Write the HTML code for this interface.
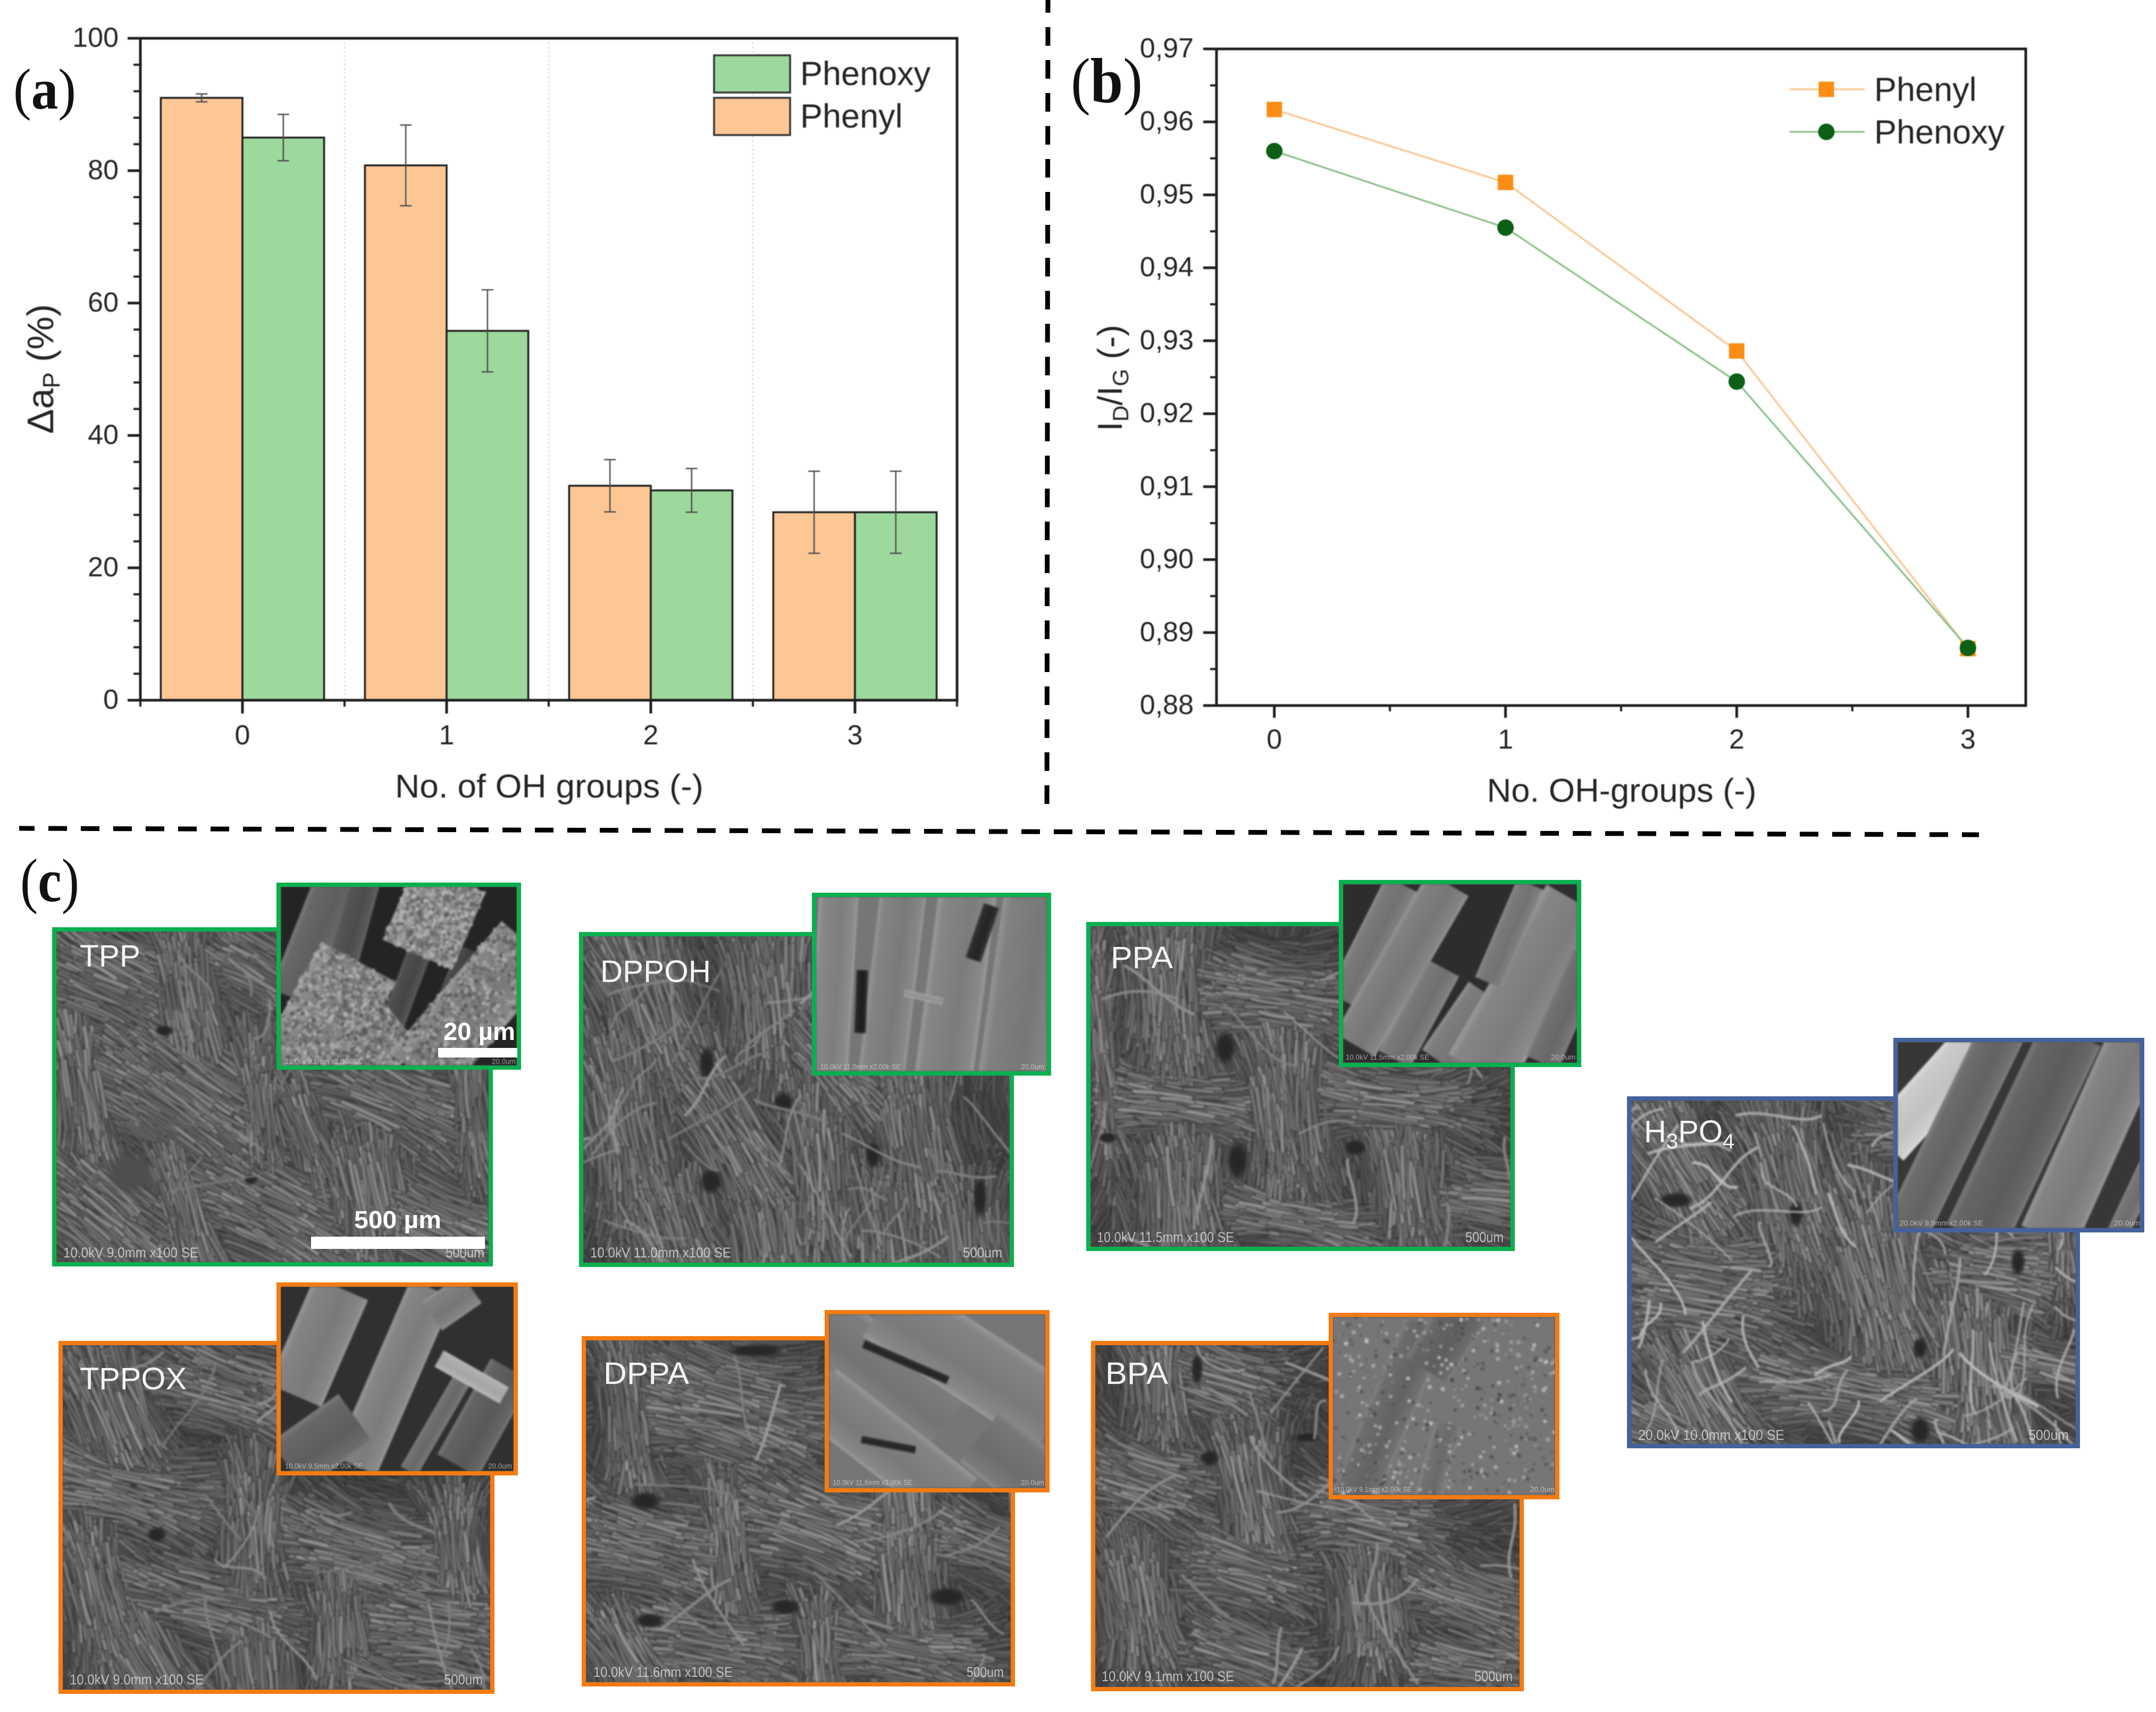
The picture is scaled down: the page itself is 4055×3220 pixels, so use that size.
<!DOCTYPE html>
<html lang="en">
<head>
<meta charset="utf-8">
<title>OH groups chart and SEM panels</title>
<style>
html,body{margin:0;padding:0;background:#fff;}
#page{position:relative;width:4055px;height:3220px;background:#fff;overflow:hidden;font-family:"Liberation Sans",sans-serif;}
.sem{position:absolute;box-sizing:border-box;border:8px solid #00b050;overflow:hidden;background:#555;}
.sem canvas{display:block;width:100%;height:100%;filter:blur(1.8px);}
.g{border-color:#0ab04f;}.o{border-color:#f47b12;}.b{border-color:#44629b;}
svg{position:absolute;left:0;top:0;}
#chartA,#chartB{filter:blur(.9px);}
.lab{fill:#f4f4f4;font-size:58px;}
.info{fill:#e8e8e8;font-size:27px;opacity:.72;}
.tiny{fill:#e8e8e8;font-size:14px;opacity:.6;}
.bar{fill:#fff;font-size:46px;font-weight:bold;}
.tick{fill:#262626;font-size:52px;}
.title{fill:#262626;font-size:62px;}
.leg{fill:#262626;font-size:63px;}
.pl{font-family:"Liberation Serif",serif;fill:#111;}
</style>
</head>
<body>
<div id="page">

<svg id="chartA" width="4055" height="1600" viewBox="0 0 4055 1600"></svg>
<svg id="chartB" width="4055" height="1600" viewBox="0 0 4055 1600"></svg>

<svg width="4055" height="1600" viewBox="0 0 4055 1600">
  <line x1="1971" y1="-11" x2="1969" y2="1512" stroke="#000" stroke-width="9" stroke-dasharray="35 27"/>
  <line x1="36" y1="1558" x2="3722" y2="1570" stroke="#000" stroke-width="9" stroke-dasharray="35 26" stroke-dashoffset="6"/>
</svg>

<div class="sem g" style="left:98px;top:1744px;width:829px;height:638px"><canvas id="m-tpp"></canvas></div>
<div class="sem g" style="left:520px;top:1660px;width:460px;height:352px"><canvas id="i-tpp"></canvas></div>

<div class="sem g" style="left:1089px;top:1753px;width:818px;height:630px"><canvas id="m-dppoh"></canvas></div>
<div class="sem g" style="left:1527px;top:1679px;width:450px;height:344px"><canvas id="i-dppoh"></canvas></div>

<div class="sem g" style="left:2043px;top:1734px;width:806px;height:619px"><canvas id="m-ppa"></canvas></div>
<div class="sem g" style="left:2518px;top:1655px;width:456px;height:352px"><canvas id="i-ppa"></canvas></div>

<div class="sem o" style="left:110px;top:2522px;width:820px;height:664px"><canvas id="m-tppox"></canvas></div>
<div class="sem o" style="left:520px;top:2412px;width:454px;height:363px"><canvas id="i-tppox"></canvas></div>

<div class="sem o" style="left:1094px;top:2513px;width:815px;height:659px"><canvas id="m-dppa"></canvas></div>
<div class="sem o" style="left:1551px;top:2464px;width:423px;height:343px"><canvas id="i-dppa"></canvas></div>

<div class="sem o" style="left:2052px;top:2522px;width:814px;height:659px"><canvas id="m-bpa"></canvas></div>
<div class="sem o" style="left:2499px;top:2469px;width:434px;height:351px"><canvas id="i-bpa"></canvas></div>

<div class="sem b" style="left:3060px;top:2062px;width:852px;height:662px"><canvas id="m-h3po4"></canvas></div>
<div class="sem b" style="left:3561px;top:1952px;width:472px;height:366px"><canvas id="i-h3po4"></canvas></div>

<svg width="4055" height="3220" viewBox="0 0 4055 3220" style="pointer-events:none">
  <text class="pl" x="25" y="204" font-size="108" textLength="118" lengthAdjust="spacingAndGlyphs">(<tspan font-weight="bold">a</tspan>)</text>
  <text class="pl" x="2014" y="192" font-size="120" textLength="135" lengthAdjust="spacingAndGlyphs">(<tspan font-weight="bold">b</tspan>)</text>
  <text class="pl" x="38" y="1695" font-size="115" textLength="111" lengthAdjust="spacingAndGlyphs">(<tspan font-weight="bold">c</tspan>)</text>

  <text class="lab" x="150" y="1818" textLength="114" lengthAdjust="spacingAndGlyphs">TPP</text>
  <text class="lab" x="1129" y="1847" textLength="208" lengthAdjust="spacingAndGlyphs">DPPOH</text>
  <text class="lab" x="2089" y="1821" textLength="117" lengthAdjust="spacingAndGlyphs">PPA</text>
  <text class="lab" x="150" y="2613" textLength="201" lengthAdjust="spacingAndGlyphs">TPPOX</text>
  <text class="lab" x="1135" y="2603" textLength="161" lengthAdjust="spacingAndGlyphs">DPPA</text>
  <text class="lab" x="2079" y="2603" textLength="118" lengthAdjust="spacingAndGlyphs">BPA</text>
  <text class="lab" x="3092" y="2148">H<tspan font-size="40" dy="12">3</tspan><tspan dy="-12">PO</tspan><tspan font-size="40" dy="12">4</tspan></text>

  <rect x="585" y="2326" width="327" height="23" fill="#fff"/>
  <text class="bar" x="666" y="2310" textLength="164" lengthAdjust="spacingAndGlyphs">500 µm</text>
  <rect x="824" y="1971" width="149" height="18" fill="#fff"/>
  <text class="bar" x="834" y="1956" textLength="135" lengthAdjust="spacingAndGlyphs">20 µm</text>

  <text class="info" x="119" y="2365" textLength="254" lengthAdjust="spacingAndGlyphs">10.0kV 9.0mm x100 SE</text>
  <text class="info" x="838" y="2365" textLength="73" lengthAdjust="spacingAndGlyphs">500um</text>
  <text class="info" x="1110" y="2365" textLength="265" lengthAdjust="spacingAndGlyphs">10.0kV 11.0mm x100 SE</text>
  <text class="info" x="1811" y="2365" textLength="74" lengthAdjust="spacingAndGlyphs">500um</text>
  <text class="info" x="2063" y="2336" textLength="258" lengthAdjust="spacingAndGlyphs">10.0kV 11.5mm x100 SE</text>
  <text class="info" x="2756" y="2336" textLength="72" lengthAdjust="spacingAndGlyphs">500um</text>
  <text class="info" x="131" y="3168" textLength="252" lengthAdjust="spacingAndGlyphs">10.0kV 9.0mm x100 SE</text>
  <text class="info" x="835" y="3168" textLength="73" lengthAdjust="spacingAndGlyphs">500um</text>
  <text class="info" x="1116" y="3154" textLength="262" lengthAdjust="spacingAndGlyphs">10.0kV 11.6mm x100 SE</text>
  <text class="info" x="1818" y="3154" textLength="70" lengthAdjust="spacingAndGlyphs">500um</text>
  <text class="info" x="2072" y="3162" textLength="249" lengthAdjust="spacingAndGlyphs">10.0kV 9.1mm x100 SE</text>
  <text class="info" x="2773" y="3162" textLength="72" lengthAdjust="spacingAndGlyphs">500um</text>
  <text class="info" x="3081" y="2708" textLength="275" lengthAdjust="spacingAndGlyphs">20.0kV 10.0mm x100 SE</text>
  <text class="info" x="3815" y="2708" textLength="76" lengthAdjust="spacingAndGlyphs">500um</text>

  <text class="tiny" x="536" y="2001" textLength="146" lengthAdjust="spacingAndGlyphs">10.0kV 9.5mm x2.00k SE</text>
  <text class="tiny" x="925" y="2001" textLength="45" lengthAdjust="spacingAndGlyphs">20.0um</text>
  <text class="tiny" x="1543" y="2011" textLength="151" lengthAdjust="spacingAndGlyphs">10.0kV 11.0mm x2.00k SE</text>
  <text class="tiny" x="1920" y="2011" textLength="44" lengthAdjust="spacingAndGlyphs">20.0um</text>
  <text class="tiny" x="2531" y="1993" textLength="157" lengthAdjust="spacingAndGlyphs">10.0kV 11.5mm x2.00k SE</text>
  <text class="tiny" x="2917" y="1993" textLength="46" lengthAdjust="spacingAndGlyphs">20.0um</text>
  <text class="tiny" x="536" y="2762" textLength="146" lengthAdjust="spacingAndGlyphs">10.0kV 9.5mm x2.00k SE</text>
  <text class="tiny" x="918" y="2762" textLength="45" lengthAdjust="spacingAndGlyphs">20.0um</text>
  <text class="tiny" x="1566" y="2793" textLength="150" lengthAdjust="spacingAndGlyphs">10.0kV 11.6mm x2.00k SE</text>
  <text class="tiny" x="1920" y="2793" textLength="44" lengthAdjust="spacingAndGlyphs">20.0um</text>
  <text class="tiny" x="2514" y="2806" textLength="141" lengthAdjust="spacingAndGlyphs">10.0kV 9.1mm x2.00k SE</text>
  <text class="tiny" x="2878" y="2806" textLength="46" lengthAdjust="spacingAndGlyphs">20.0um</text>
  <text class="tiny" x="3573" y="2305" textLength="157" lengthAdjust="spacingAndGlyphs">20.0kV 9.9mm x2.00k SE</text>
  <text class="tiny" x="3976" y="2305" textLength="49" lengthAdjust="spacingAndGlyphs">20.0um</text>
</svg>
</div>

<script>
/* ---------- chart data ---------- */
const categoriesA = [0, 1, 2, 3];
const phenylValues = [91, 80.8, 32.4, 28.4];
const phenylErrors = [0.6, 6.1, 3.95, 6.2];
const phenoxyValues = [85, 55.8, 31.7, 28.4];
const phenoxyErrors = [3.5, 6.2, 3.3, 6.2];
const yTicksA = [0, 20, 40, 60, 80, 100];

const categoriesB = [0, 1, 2, 3];
const phenylRatio = [0.9617, 0.9517, 0.9286, 0.8878];
const phenoxyRatio = [0.956, 0.9455, 0.9244, 0.8879];
const yTicksB = [0.88, 0.89, 0.90, 0.91, 0.92, 0.93, 0.94, 0.95, 0.96, 0.97];

const NS = 'http://www.w3.org/2000/svg';
function mk(parent, tag) {
  const e = document.createElementNS(NS, tag);
  parent.appendChild(e);
  return e;
}
function seg(parent, x1, y1, x2, y2, stroke, w) {
  const l = mk(parent, 'line');
  l.setAttribute('x1', x1); l.setAttribute('y1', y1);
  l.setAttribute('x2', x2); l.setAttribute('y2', y2);
  l.setAttribute('stroke', stroke); l.setAttribute('stroke-width', w);
  return l;
}
function txt(parent, cls, x, y, s, anchor) {
  const t = mk(parent, 'text');
  t.setAttribute('class', cls);
  t.setAttribute('x', x); t.setAttribute('y', y);
  if (anchor) t.setAttribute('text-anchor', anchor);
  t.textContent = s;
  return t;
}

/* ---------- chart A ---------- */
(function () {
  const svg = document.getElementById('chartA');
  const L = 264, R = 1800, T = 72, B = 1317;
  const xA = v => L + (v + 0.5) / 4 * (R - L);
  const yA = v => B - v / 100 * (B - T);
  const barW = 0.4 / 4 * (R - L);
  const dark = '#1f1f1f';

  categoriesA.slice(0, -1).forEach(c => {
    const g = seg(svg, xA(c + 0.5), T, xA(c + 0.5), B, '#cfcfcf', 2);
    g.setAttribute('stroke-dasharray', '3 5');
    
    
  });

  function bars(vals, errs, fill, off, name) {
    vals.forEach((v, i) => {
      const x = xA(categoriesA[i]) + off * barW;
      const r = mk(svg, 'rect');
      r.setAttribute('x', x); r.setAttribute('y', yA(v));
      r.setAttribute('width', barW); r.setAttribute('height', yA(0) - yA(v));
      r.setAttribute('fill', fill); r.setAttribute('stroke', dark); r.setAttribute('stroke-width', 3.5);
      
      
    });
    vals.forEach((v, i) => {
      const cx = xA(categoriesA[i]) + off * barW + barW / 2;
      const hi = yA(v + errs[i]), lo = yA(v - errs[i]);
      const g = mk(svg, 'g');
      
      
      seg(g, cx, hi, cx, lo, '#4d4d4d', 2.5);
      seg(g, cx - 11, hi, cx + 11, hi, '#4d4d4d', 2.5);
      seg(g, cx - 11, lo, cx + 11, lo, '#4d4d4d', 2.5);
    });
  }
  bars(phenylValues, phenylErrors, '#fcc795', -1, 'phenyl');
  bars(phenoxyValues, phenoxyErrors, '#9dd89c', 0, 'phenoxy');

  const frame = mk(svg, 'rect');
  frame.setAttribute('x', L); frame.setAttribute('y', T);
  frame.setAttribute('width', R - L); frame.setAttribute('height', B - T);
  frame.setAttribute('fill', 'none'); frame.setAttribute('stroke', dark); frame.setAttribute('stroke-width', 5);
  
  

  yTicksA.forEach((v, i) => {
    const tk = seg(svg, L - 24, yA(v), L, yA(v), dark, 5);
    
    
    const lb = txt(svg, 'tick', 223, yA(v) + 16, String(v), 'end');
    
    
    if (i < yTicksA.length - 1) {
      for (let k = 1; k < 5; k++) {
        const mv = v + k * (yTicksA[i + 1] - v) / 5;
        const m = seg(svg, L - 13, yA(mv), L, yA(mv), dark, 4);
        
        
      }
    }
  });
  categoriesA.forEach(c => {
    const tk = seg(svg, xA(c), B, xA(c), B + 25, dark, 5);
    
    
    const lb = txt(svg, 'tick', xA(c), 1400, String(c), 'middle');
    
    
    [-0.5, 0.5].forEach(d => {
      const m = seg(svg, xA(c + d), B, xA(c + d), B + 12, dark, 4);
      
      
    });
  });

  const xt = txt(svg, 'title', 1033, 1500, 'No. of OH groups (-)', 'middle');
  xt.setAttribute('textLength', 580);
  xt.setAttribute('lengthAdjust', 'spacingAndGlyphs');
  
  

  const yt = txt(svg, 'title', 0, 0, '');
  yt.setAttribute('transform', 'translate(100,816) rotate(-90)');
  yt.style.fontSize = '70px';
  
  
  yt.innerHTML = 'Δa<tspan style="font-size:45px" dy="12">P</tspan><tspan dy="-12"> (%)</tspan>';

  function legendSwatch(y, fill, label, name) {
    const r = mk(svg, 'rect');
    r.setAttribute('x', 1343); r.setAttribute('y', y);
    r.setAttribute('width', 143); r.setAttribute('height', 70);
    r.setAttribute('fill', fill); r.setAttribute('stroke', '#333'); r.setAttribute('stroke-width', 3.5);
    
    
    const t = txt(svg, 'leg', 1505, y + 56, label);
    
    
  }
  legendSwatch(104, '#9dd89c', 'Phenoxy', 'phenoxy');
  legendSwatch(184, '#fcc795', 'Phenyl', 'phenyl');
})();

/* ---------- chart B ---------- */
(function () {
  const svg = document.getElementById('chartB');
  const L = 2288, R = 3810, T = 92, B = 1327;
  const xB = v => L + (v + 0.25) / 3.5 * (R - L);
  const yB = v => B - (v - 0.88) / 0.09 * (B - T);
  const dark = '#1f1f1f';

  const frame = mk(svg, 'rect');
  frame.setAttribute('x', L); frame.setAttribute('y', T);
  frame.setAttribute('width', R - L); frame.setAttribute('height', B - T);
  frame.setAttribute('fill', 'none'); frame.setAttribute('stroke', dark); frame.setAttribute('stroke-width', 5);
  
  

  yTicksB.forEach((v, i) => {
    const tk = seg(svg, L - 25, yB(v), L, yB(v), dark, 5);
    
    
    const lb = txt(svg, 'tick', 2245, yB(v) + 16, v.toFixed(2).replace('.', ','), 'end');
    
    
    if (i < yTicksB.length - 1) {
      const mv = (v + yTicksB[i + 1]) / 2;
      const m = seg(svg, L - 12, yB(mv), L, yB(mv), dark, 4);
      
      
    }
  });
  categoriesB.forEach((c, i) => {
    const tk = seg(svg, xB(c), B, xB(c), B + 23, dark, 5);
    
    
    const lb = txt(svg, 'tick', xB(c), 1408, String(c), 'middle');
    
    
    if (i < categoriesB.length - 1) {
      const m = seg(svg, xB(c + 0.5), B, xB(c + 0.5), B + 11, dark, 4);
      
      
    }
  });

  function series(vals, color, name) {
    const p = mk(svg, 'polyline');
    p.setAttribute('points', vals.map((v, i) => xB(categoriesB[i]) + ',' + yB(v)).join(' '));
    p.setAttribute('fill', 'none');
    p.setAttribute('stroke', color);
    p.setAttribute('stroke-width', 3.5);
    
    
  }
  function square(x, y, name) {
    const s = mk(svg, 'rect');
    s.setAttribute('x', x - 14.5); s.setAttribute('y', y - 14.5);
    s.setAttribute('width', 29); s.setAttribute('height', 29);
    s.setAttribute('fill', '#fb8d14');
    
    
  }
  function dot(x, y, name) {
    const s = mk(svg, 'circle');
    s.setAttribute('cx', x); s.setAttribute('cy', y); s.setAttribute('r', 15.5);
    s.setAttribute('fill', '#0c5f14');
    
    
  }
  series(phenylRatio, '#fcc795', 'phenyl');
  series(phenoxyRatio, '#8fc290', 'phenoxy');
  phenylRatio.forEach((v, i) => square(xB(categoriesB[i]), yB(v), 'phenyl-point'));
  phenoxyRatio.forEach((v, i) => dot(xB(categoriesB[i]), yB(v), 'phenoxy-point'));

  const ll1 = seg(svg, 3366, 168, 3507, 168, '#fcc795', 3.5);
  
  
  square(3435, 168, 'phenyl-legend-marker');
  const ll2 = seg(svg, 3366, 248, 3507, 248, '#8fc290', 3.5);
  
  
  dot(3435, 248, 'phenoxy-legend-marker');
  const t1 = txt(svg, 'leg', 3525, 190, 'Phenyl');
  
  
  const t2 = txt(svg, 'leg', 3525, 270, 'Phenoxy');
  
  

  const xt = txt(svg, 'title', 3050, 1508, 'No. OH-groups (-)', 'middle');
  xt.setAttribute('textLength', 507);
  xt.setAttribute('lengthAdjust', 'spacingAndGlyphs');
  
  

  const yt = txt(svg, 'title', 0, 0, '');
  yt.setAttribute('transform', 'translate(2110,811) rotate(-90)');
  yt.style.fontSize = '65px';
  
  
  yt.innerHTML = 'I<tspan style="font-size:42px" dy="12">D</tspan><tspan dy="-12">/I</tspan><tspan style="font-size:42px" dy="12">G</tspan><tspan dy="-12"> (-)</tspan>';
})();

/* ---------- SEM micrograph textures (decorative, procedural) ---------- */
function rng(seed) {
  let a = seed >>> 0;
  return function () {
    a = (a + 0x6D2B79F5) >>> 0;
    let t = a;
    t = Math.imul(t ^ (t >>> 15), t | 1);
    t ^= t + Math.imul(t ^ (t >>> 7), t | 61);
    return ((t ^ (t >>> 14)) >>> 0) / 4294967296;
  };
}
function sized(id) {
  const c = document.getElementById(id);
  c.width = c.clientWidth;
  c.height = c.clientHeight;
  return c;
}
function grayC(v) {
  v = Math.max(0, Math.min(255, Math.round(v)));
  return 'rgb(' + v + ',' + v + ',' + v + ')';
}
function paintMain(id, seed, patches, holes, strays, strayLight, bright) {
  const c = sized(id), ctx = c.getContext('2d'), r = rng(seed);
  const W = c.width, H = c.height;
  ctx.fillStyle = '#484848';
  ctx.fillRect(0, 0, W, H);
  ctx.lineCap = 'round';
  const n = Math.round(W * H / 75);
  const list = [];
  for (let i = 0; i < n; i++) {
    const x = r() * (W + 60) - 30, y = r() * (H + 60) - 30;
    let best = Infinity, bu = 0, bw = 0, ba = 0;
    patches.forEach(p => {
      const a = p[4] * Math.PI / 180;
      const lenA = Math.max(p[2] * W, p[3] * H);
      const perp = Math.min(p[2] * W, p[3] * H);
      const dx = x - p[0] * W, dy = y - p[1] * H;
      const u = (dx * Math.cos(a) + dy * Math.sin(a)) / lenA;
      const w = (-dx * Math.sin(a) + dy * Math.cos(a)) / perp;
      const d = Math.sqrt(u * u + w * w);
      if (d < best) { best = d; bu = u; bw = w; ba = a; }
    });
    list.push([x, y, best, bu, bw, ba, best + r() * 0.5]);
  }
  list.sort((p, q) => q[6] - p[6]);
  list.forEach(f => {
    const fade = Math.max(0.62, 1 - Math.max(0, f[2] - 0.55) * 0.42);
    const ang = f[5] + Math.max(-0.6, Math.min(0.6, f[3] * f[4] * 0.65)) + (r() - 0.5) * 0.22;
    const len = 55 + r() * 65, wd = 4.5 + r() * 3;
    const v = (98 + r() * 48) * bright * fade;
    const dx = Math.cos(ang) * len / 2, dy = Math.sin(ang) * len / 2;
    const bend = (r() - 0.5) * 12;
    ctx.beginPath();
    ctx.moveTo(f[0] - dx, f[1] - dy);
    ctx.quadraticCurveTo(f[0] - Math.sin(ang) * bend, f[1] + Math.cos(ang) * bend, f[0] + dx, f[1] + dy);
    ctx.strokeStyle = 'rgba(48,48,48,.75)';
    ctx.lineWidth = wd + 3;
    ctx.stroke();
    ctx.strokeStyle = grayC(v);
    ctx.lineWidth = wd;
    ctx.stroke();
  });
  holes.forEach(h => {
    const cx = h[0] * W, cy = h[1] * H, rx = h[2] * W, ry = h[3] * H;
    const tone = h[4] === undefined ? 38 : h[4];
    ctx.save();
    ctx.translate(cx, cy);
    ctx.scale(rx, ry);
    const g = ctx.createRadialGradient(0, 0, 0.1, 0, 0, 1);
    g.addColorStop(0, 'rgba(' + tone + ',' + tone + ',' + tone + ',1)');
    g.addColorStop(0.55, 'rgba(' + tone + ',' + tone + ',' + tone + ',.92)');
    g.addColorStop(1, 'rgba(' + tone + ',' + tone + ',' + tone + ',0)');
    ctx.fillStyle = g;
    ctx.beginPath();
    ctx.arc(0, 0, 1, 0, Math.PI * 2);
    ctx.fill();
    ctx.restore();
  });
  for (let i = 0; i < strays; i++) {
    const x = r() * W, y = r() * H, ang = r() * Math.PI;
    const len = 70 + r() * 130;
    ctx.beginPath();
    ctx.moveTo(x, y);
    ctx.bezierCurveTo(
      x + Math.cos(ang) * len * 0.3 + (r() - 0.5) * 50, y + Math.sin(ang) * len * 0.3 + (r() - 0.5) * 50,
      x + Math.cos(ang) * len * 0.7 + (r() - 0.5) * 50, y + Math.sin(ang) * len * 0.7 + (r() - 0.5) * 50,
      x + Math.cos(ang) * len, y + Math.sin(ang) * len);
    ctx.strokeStyle = grayC(strayLight + r() * 35);
    ctx.lineWidth = 3 + r() * 2.5;
    ctx.stroke();
  }
}
function paintInset(id, seed, base, stripes, speck) {
  const c = sized(id), ctx = c.getContext('2d'), r = rng(seed);
  const W = c.width, H = c.height;
  ctx.fillStyle = grayC(base);
  ctx.fillRect(0, 0, W, H);
  stripes.forEach(s => {
    const x0 = s[0] * W, y0 = s[1] * H, x1 = s[2] * W, y1 = s[3] * H;
    const w = s[4] * W, v = s[5], sp = s[6] || 0;
    const len = Math.hypot(x1 - x0, y1 - y0);
    ctx.save();
    ctx.translate(x0, y0);
    ctx.rotate(Math.atan2(y1 - y0, x1 - x0));
    const g = ctx.createLinearGradient(0, -w / 2, 0, w / 2);
    g.addColorStop(0, grayC(v + 24));
    g.addColorStop(0.12, grayC(v + 4));
    g.addColorStop(0.6, grayC(v - 6));
    g.addColorStop(0.92, grayC(v + 8));
    g.addColorStop(1, grayC(v + 28));
    ctx.fillStyle = g;
    ctx.fillRect(0, -w / 2, len, w);
    for (let i = 0; i < sp; i++) {
      ctx.fillStyle = grayC(v + (r() < 0.5 ? 15 + r() * 35 : -15 - r() * 30));
      ctx.beginPath();
      ctx.arc(r() * len, (r() - 0.5) * w, 1.5 + r() * 3, 0, Math.PI * 2);
      ctx.fill();
    }
    ctx.restore();
  });
  for (let i = 0; i < (speck || 0); i++) {
    ctx.fillStyle = grayC(r() < 0.5 ? 150 + r() * 50 : 70 + r() * 35);
    ctx.beginPath();
    ctx.arc(r() * W, r() * H, 1.2 + r() * 2.8, 0, Math.PI * 2);
    ctx.fill();
  }
}

paintMain('m-tpp', 11, [
  [.12,.15,.16,.18,25],[.3,.2,.2,.12,80],[.47,.12,.12,.12,30],[.06,.48,.22,.09,82],
  [.3,.5,.3,.2,35],[.47,.55,.2,.08,85],[.58,.6,.18,.07,70],[.78,.5,.22,.14,25],
  [.95,.5,.22,.06,85],[.72,.78,.16,.16,80],[.1,.85,.2,.16,40],[.3,.85,.2,.08,75],
  [.52,.85,.24,.16,28],[.88,.88,.18,.13,25]
], [[.17,.73,.06,.07,78],[.25,.3,.025,.018],[.45,.75,.018,.018]], 12, 115, 1);
paintInset('i-tpp', 12, 36, [
  [.05,.62,.25,-.05,.2,100],[.2,.72,.36,-.05,.13,82],[.45,.85,.62,.25,.1,75],[.62,.95,.8,.35,.1,70],
  [.72,-.05,.58,.38,.32,138,900],[.05,1.1,.33,.42,.36,132,1100],[.52,.78,.2,1.12,.24,128,700],
  [.58,1.05,1.05,.32,.3,128,800]
], 0);

paintMain('m-dppoh', 21, [
  [.15,.2,.25,.14,70],[.45,.2,.22,.15,85],[.1,.6,.3,.12,80],[.35,.6,.3,.12,60],
  [.55,.35,.2,.12,50],[.55,.7,.3,.1,85],[.78,.6,.3,.12,80],[.2,.9,.12,.16,70],
  [.45,.92,.1,.15,80],[.9,.9,.1,.1,85],[.7,.9,.12,.12,85]
], [[.29,.39,.02,.06],[.47,.51,.025,.035],[.3,.75,.03,.045],[.68,.67,.02,.045],[.93,.8,.018,.07]], 55, 118, 1);
paintInset('i-dppoh', 22, 118, [
  [.05,1.05,.1,-.05,.17,132],[.28,1.05,.38,-.05,.2,128],[.55,1.05,.66,-.05,.25,130],[.85,1.05,.97,-.05,.3,125],
  [.19,.78,.2,.42,.05,35],[.68,.36,.76,.05,.07,42],[.38,.55,.55,.6,.03,150]
], 0);

paintMain('m-ppa', 31, [
  [.19,.2,.27,.13,88],[.43,.22,.2,.12,8],[.47,.58,.27,.13,85],[.19,.55,.2,.1,8],
  [.71,.55,.18,.1,8],[.22,.83,.18,.13,85],[.76,.8,.18,.12,85],[.5,.92,.2,.07,12],
  [.95,.85,.08,.1,10],[.03,.4,.3,.04,85]
], [[.32,.38,.028,.055],[.35,.73,.028,.065],[.63,.69,.028,.028],[.04,.66,.028,.018]], 18, 120, 1.02);
paintInset('i-ppa', 32, 45, [
  [0,.65,.25,0,.15,120],[.05,.9,.45,0,.2,125],[.22,.98,.43,.47,.15,118],[.42,1.0,.62,.62,.2,122],
  [.58,1.05,1.0,.1,.3,130],[.62,.55,.8,0,.12,120],[.85,1.0,1.05,.4,.15,110]
], 0);

paintMain('m-tppox', 41, [
  [.12,.2,.2,.12,70],[.4,.12,.2,.12,20],[.15,.42,.22,.12,15],[.45,.55,.2,.09,88],
  [.7,.6,.22,.12,15],[.92,.6,.14,.08,85],[.08,.72,.2,.1,75],[.33,.75,.22,.11,15],
  [.65,.83,.18,.09,85],[.88,.82,.17,.14,10],[.2,.92,.18,.1,60],[.45,.95,.15,.1,85],[.75,.97,.14,.06,20]
], [[.22,.55,.025,.025]], 25, 115, 1);
paintInset('i-tppox', 42, 48, [
  [.06,.59,.26,.01,.25,128],[.32,.97,.65,.01,.2,130],[.65,.16,.82,.01,.15,125],[.76,.97,.99,.45,.2,95],
  [.03,.97,.32,.71,.25,100],[.55,1,.78,.5,.08,110],[.68,.39,.96,.59,.08,172]
], 0);

paintMain('m-dppa', 51, [
  [.1,.2,.2,.07,85],[.33,.2,.22,.17,15],[.15,.6,.2,.14,15],[.33,.6,.22,.07,85],
  [.55,.55,.22,.14,20],[.75,.45,.1,.1,85],[.75,.7,.2,.1,85],[.95,.6,.14,.08,20],
  [.1,.9,.1,.1,60],[.3,.88,.2,.12,10],[.55,.9,.1,.07,85],[.75,.9,.18,.1,10]
], [[.14,.47,.04,.03],[.15,.82,.04,.025],[.47,.78,.04,.025],[.85,.75,.05,.03],[.4,.03,.07,.02]], 18, 125, 1.02);
paintInset('i-dppa', 52, 118, [
  [-.05,.05,.55,.62,.34,122],[.25,-.05,1.05,.6,.34,128],[-.05,.45,.6,1.08,.28,128],[.7,.7,1.05,1.05,.3,115],
  [.16,.17,.55,.38,.04,42],[.15,.72,.4,.78,.035,42]
], 0);

paintMain('m-bpa', 61, [
  [.15,.12,.12,.09,85],[.3,.1,.1,.12,20],[.12,.4,.13,.12,20],[.37,.42,.2,.1,80],
  [.1,.75,.17,.1,80],[.35,.65,.13,.11,15],[.65,.5,.14,.13,10],[.65,.75,.15,.11,85],
  [.9,.75,.16,.1,20],[.35,.9,.12,.1,20],[.88,.95,.1,.1,10]
], [[.24,.07,.015,.05],[.27,.33,.025,.025],[.5,.27,.035,.015]], 22, 125, 1.02);
paintInset('i-bpa', 62, 118, [
  [.08,1.05,.42,.05,.2,105],[.42,1.05,.52,.6,.12,112],[.42,.3,.6,-.05,.22,100]
], 500);

paintMain('m-h3po4', 71, [
  [.12,.2,.2,.12,60],[.35,.25,.2,.12,75],[.7,.1,.1,.2,15],[.15,.55,.15,.22,10],
  [.55,.5,.25,.15,75],[.82,.5,.12,.12,10],[.97,.4,.15,.05,85],[.77,.73,.22,.13,85],
  [.97,.78,.15,.06,15],[.15,.85,.18,.13,60],[.5,.85,.26,.1,10],[.08,.95,.1,.1,25],[.85,.95,.05,.1,80]
], [[.1,.29,.045,.025],[.37,.33,.018,.045],[.65,.72,.018,.035],[.87,.47,.018,.045],[.65,.96,.025,.045]], 70, 160, 1.05);
paintInset('i-h3po4', 72, 55, [
  [-.05,.55,.4,-.1,.2,200],[.02,1.05,.43,-.05,.19,105],[.32,1.05,.72,-.05,.26,98],
  [.62,1.05,1.0,-.05,.24,128],[.9,1.05,1.08,.55,.09,115]
], 0);
</script>
</body>
</html>
